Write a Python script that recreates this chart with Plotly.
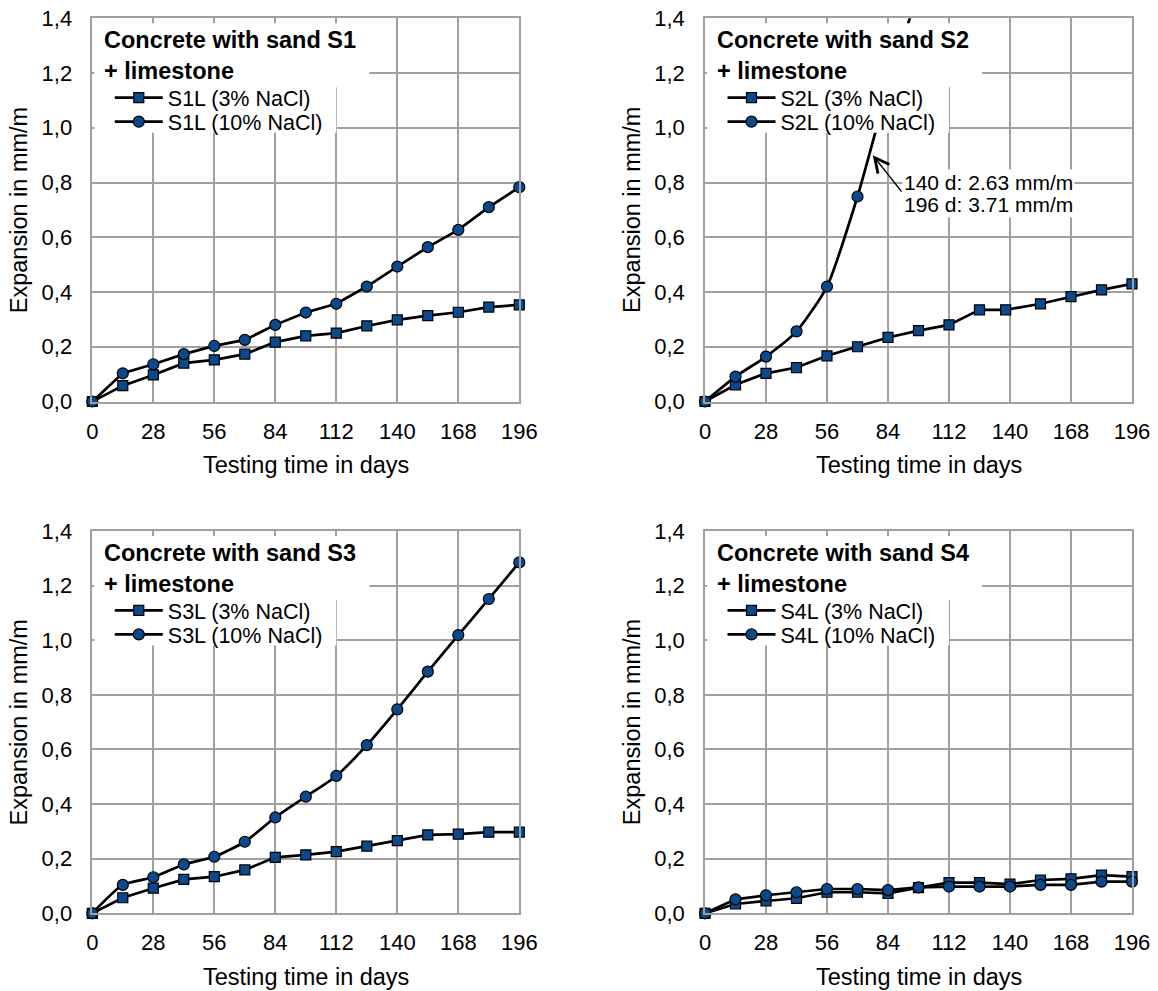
import plotly.graph_objects as go

# ---------------- data ----------------
days = [0, 14, 28, 42, 56, 70, 84, 98, 112, 126, 140, 154, 168, 182, 196]
days_s2_3 = [0, 14, 28, 42, 56, 70, 84, 98, 112, 126, 138, 154, 168, 182, 196]

s1_3 = [0.0, 0.058, 0.097, 0.140, 0.152, 0.173, 0.217, 0.240, 0.250, 0.276, 0.298, 0.314, 0.326, 0.345, 0.353]
s1_10 = [0.0, 0.103, 0.136, 0.173, 0.203, 0.225, 0.280, 0.325, 0.357, 0.420, 0.493, 0.564, 0.627, 0.710, 0.783]

s2_3 = [0.0, 0.061, 0.103, 0.124, 0.167, 0.200, 0.234, 0.259, 0.280, 0.335, 0.335, 0.357, 0.383, 0.408, 0.430]
days_s2_10 = [0, 14, 28, 42, 56, 70, 84, 98, 140, 196]
s2_10 = [0.0, 0.091, 0.164, 0.256, 0.420, 0.749, 1.15, 1.50, 2.63, 3.71]

s3_3 = [0.0, 0.057, 0.092, 0.124, 0.134, 0.159, 0.205, 0.214, 0.226, 0.246, 0.266, 0.287, 0.290, 0.297, 0.297]
s3_10 = [0.0, 0.104, 0.132, 0.179, 0.207, 0.262, 0.351, 0.427, 0.503, 0.616, 0.747, 0.885, 1.019, 1.151, 1.285]

s4_3 = [0.0, 0.034, 0.045, 0.055, 0.077, 0.077, 0.073, 0.094, 0.112, 0.112, 0.107, 0.122, 0.126, 0.140, 0.134]
s4_10 = [0.0, 0.051, 0.066, 0.077, 0.089, 0.089, 0.085, 0.095, 0.098, 0.098, 0.098, 0.104, 0.104, 0.116, 0.116]

panel_titles = ["Concrete with sand S1<br>+ limestone", "Concrete with sand S2<br>+ limestone",
                "Concrete with sand S3<br>+ limestone", "Concrete with sand S4<br>+ limestone"]
names_3 = ["S1L (3% NaCl)", "S2L (3% NaCl)", "S3L (3% NaCl)", "S4L (3% NaCl)"]
names_10 = ["S1L (10% NaCl)", "S2L (10% NaCl)", "S3L (10% NaCl)", "S4L (10% NaCl)"]
note_s2 = ["140 d: 2.63 mm/m", "196 d: 3.71 mm/m"]
x_title = "Testing time in days"
y_title = "Expansion in mm/m"

# ---------------- styling ----------------
FONT = "Liberation Sans, Arial, sans-serif"
BLUE = "#0a4a8c"
GRID = "#a0a0a0"
W, H = 1158, 991

# plot-area pixel geometry (window coordinates)
lefts = [92.3, 705.0, 92.3, 705.0]
tops = [18.3, 18.3, 531.0, 531.0]
PW = 427.0
PHs = [383.2, 383.2, 382.3, 382.3]

series3 = [(days, s1_3), (days_s2_3, s2_3), (days, s3_3), (days, s4_3)]
series10 = [(days, s1_10), (days_s2_10, s2_10), (days, s3_10), (days, s4_10)]
smooth10 = [False, True, True, False]


def px(xw):
    return xw / W


def py(yw):
    return 1 - yw / H


fig = go.Figure()
shapes = []
annotations = []
layout = dict(
    width=W, height=H, autosize=False,
    margin=dict(l=0, r=0, t=0, b=0, pad=0, autoexpand=False),
    paper_bgcolor="white", plot_bgcolor="white",
    separators=", ", showlegend=True,
    font=dict(family=FONT, color="black"),
)

for i in range(4):
    n = i + 1
    xa = "x" if n == 1 else f"x{n}"
    ya = "y" if n == 1 else f"y{n}"
    L, T, PH = lefts[i], tops[i], PHs[i]
    lg3 = "legend" if n == 1 else f"legend{2 * n - 1}"
    lg10 = f"legend{2 * n}"

    xs, ys = series3[i]
    fig.add_trace(go.Scatter(
        x=xs, y=ys, name=names_3[i], mode="lines+markers", xaxis=xa, yaxis=ya,
        line=dict(color="black", width=2.7),
        marker=dict(symbol="square", size=10, color=BLUE, line=dict(color="black", width=1.2)),
        cliponaxis=False, legend=lg3))
    xs, ys = series10[i]
    fig.add_trace(go.Scatter(
        x=xs, y=ys, name=names_10[i], mode="lines+markers", xaxis=xa, yaxis=ya,
        line=dict(color="black", width=2.7, shape="spline" if smooth10[i] else "linear", smoothing=0.6),
        marker=dict(symbol="circle", size=11, color=BLUE, line=dict(color="black", width=1.2)),
        cliponaxis=False, legend=lg10))

    xkey = "xaxis" if n == 1 else f"xaxis{n}"
    ykey = "yaxis" if n == 1 else f"yaxis{n}"
    layout[xkey] = dict(
        domain=[px(L), px(L + PW)], anchor=ya, range=[0, 196], tick0=0, dtick=28,
        showgrid=True, gridcolor=GRID, gridwidth=1.5, showline=True, linecolor=GRID,
        linewidth=1.5, mirror=True, zeroline=False, ticks="", ticklabelstandoff=9,
        automargin=False, ticklabeloverflow="allow",
        tickfont=dict(size=22, family=FONT, color="black"))
    layout[ykey] = dict(
        domain=[py(T + PH), py(T)], anchor=xa, range=[0, 1.4], tick0=0, dtick=0.2,
        tickformat=".1f", showgrid=True, gridcolor=GRID, gridwidth=1.5, showline=True,
        linecolor=GRID, linewidth=1.5, mirror=True, zeroline=False, ticks="",
        ticklabelstandoff=14, automargin=False, ticklabeloverflow="allow",
        tickfont=dict(size=22, family=FONT, color="black"))

    xd, yd = f"{xa} domain", f"{ya} domain"
    # white boxes behind title and legend
    shapes.append(dict(type="rect", xref=xd, yref=yd, x0=2 / PW, x1=277 / PW,
                       y0=1 - 69 / PH, y1=1 - 5 / PH, fillcolor="white", line=dict(width=0),
                       layer="above"))
    shapes.append(dict(type="rect", xref=xd, yref=yd, x0=2 / PW, x1=244 / PW,
                       y0=1 - 114.5 / PH, y1=1 - 68 / PH, fillcolor="white", line=dict(width=0),
                       layer="above"))
    # panel title
    annotations.append(dict(text=f"<b>{panel_titles[i]}</b>", xref=xd, yref=yd,
                            x=10 / PW, y=1 - 37.5 / PH, xanchor="left", yanchor="middle",
                            align="left", showarrow=False,
                            font=dict(size=23.5, family=FONT, color="black")))
    # axis titles
    annotations.append(dict(text=x_title, xref=xd, yref=yd, x=0.5, y=-63.5 / PH,
                            xanchor="center", yanchor="middle", showarrow=False,
                            font=dict(size=23.5, family=FONT, color="black")))
    annotations.append(dict(text=y_title, xref=xd, yref=yd, x=-73 / PW, y=0.5,
                            xanchor="center", yanchor="middle", textangle=-90, showarrow=False,
                            font=dict(size=23.5, family=FONT, color="black")))
    # legends (one per entry so rows can be placed precisely)
    for lg, dy in ((lg3, 79.4), (lg10, 103.4)):
        layout[lg] = dict(
            x=px(L + 17.5), y=py(T + dy), xanchor="left", yanchor="middle",
            xref="paper", yref="paper", bgcolor="rgba(0,0,0,0)", borderwidth=0,
            itemwidth=48, font=dict(size=21.5, family=FONT, color="black"),
            itemclick=False, itemdoubleclick=False)

# S2 note with arrow
annotations.append(dict(text="", xref="x2", yref="y2", x=77, y=0.90, ax=30, ay=38,
                        axref="pixel", ayref="pixel", showarrow=True, arrowhead=5,
                        arrowsize=1.9, arrowwidth=1.5, arrowcolor="black"))
for line_text, yc in zip(note_s2, (182.3, 205.0)):
    annotations.append(dict(text=line_text, xref="x2 domain", yref="y2 domain",
                            x=(902 - 705) / PW, y=1 - (yc - 18.3) / 383.2,
                            xanchor="left", yanchor="middle", align="left", showarrow=False,
                            bgcolor="white", borderpad=1,
                            font=dict(size=21, family=FONT, color="black")))

layout["shapes"] = shapes
layout["annotations"] = annotations
fig.update_layout(**layout)

fig.write_html("out.html", config={"displayModeBar": False},
               post_script="document.body.style.margin='0';document.body.style.overflow='hidden';")
